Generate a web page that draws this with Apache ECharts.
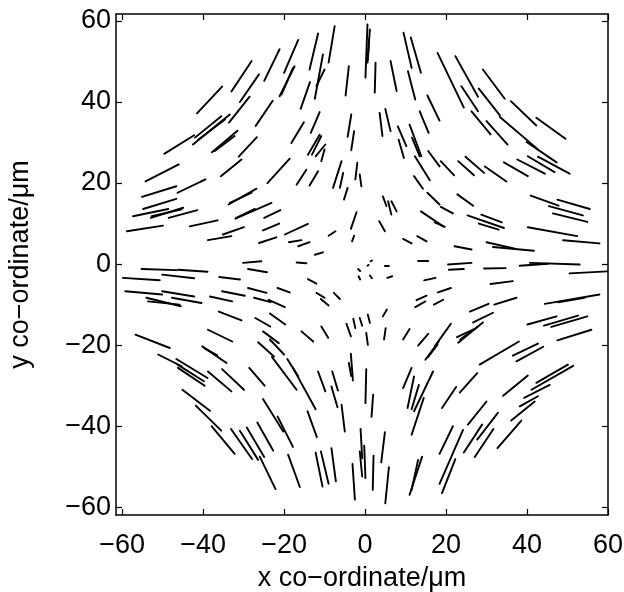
<!DOCTYPE html>
<html>
<head>
<meta charset="utf-8">
<script src="https://cdn.jsdelivr.net/npm/echarts@6/dist/echarts.min.js"></script>
<style>
  html, body { margin: 0; padding: 0; background: #fff; }
  #chart { width: 624px; height: 592px; }
</style>
</head>
<body>
<div id="chart"></div>
<script>
// tick values shown on both axes
const tickValues = [-60, -40, -20, 0, 20, 40, 60]

// director segments [x1, y1, x2, y2] in µm, grouped by region of the plot
const topLeft = [
  [-41.5, 37.2, -35.3, 43.8], [-33.0, 42.6, -28.0, 50.1], [-30.9, 40.0, -26.2, 46.8],
  [-24.9, 45.2, -21.1, 53.0], [-33.6, 34.9, -28.5, 41.3], [-27.0, 34.1, -22.8, 40.3],
  [-42.0, 31.2, -35.5, 36.5], [-42.5, 29.5, -33.4, 36.9], [-41.2, 30.7, -34.6, 35.7],
  [-49.6, 27.2, -42.2, 31.8], [-37.8, 27.6, -31.5, 32.9], [-37.1, 27.9, -32.2, 31.6],
  [-31.2, 26.5, -26.7, 31.3], [-54.2, 20.4, -46.0, 24.6], [-35.6, 21.7, -30.5, 25.8],
  [-24.1, 20.0, -18.6, 26.0]
]

const topMid = [
  [-20.0, 47.2, -16.5, 55.3], [-21.1, 41.4, -17.4, 48.8], [-20.6, 41.9, -17.8, 48.4],
  [-13.7, 48.0, -11.6, 56.9], [-9.0, 49.7, -7.5, 58.7], [-12.4, 40.8, -10.4, 51.7],
  [-12.0, 43.9, -10.0, 48.0], [-15.9, 38.3, -13.6, 44.9], [-4.8, 41.6, -4.0, 48.8],
  [0.1, 46.0, 0.6, 59.1], [0.6, 49.7, 1.2, 57.9], [0.7, 50.5, 1.0, 55.5],
  [2.4, 42.3, 2.6, 49.7], [6.3, 50.1, 7.8, 42.7], [9.5, 57.1, 11.5, 48.4],
  [11.3, 55.9, 13.8, 47.2], [10.6, 47.6, 12.4, 40.6], [17.9, 52.1, 24.4, 38.6],
  [15.4, 41.6, 18.4, 35.4], [-18.2, 29.9, -15.1, 35.0], [-13.4, 32.4, -11.2, 37.5],
  [-14.1, 27.0, -11.2, 31.9], [-13.1, 27.0, -10.8, 31.6], [-12.2, 26.6, -9.8, 29.5],
  [-10.8, 25.4, -10.0, 28.3], [-4.3, 31.4, -3.4, 36.9], [-3.4, 28.1, -2.7, 32.8],
  [3.6, 37.3, 4.3, 31.6], [5.0, 38.3, 6.3, 32.8], [8.1, 34.0, 10.2, 29.1],
  [8.3, 30.7, 9.6, 26.2], [11.0, 34.4, 13.9, 26.6], [11.6, 31.2, 13.5, 26.6],
  [13.5, 37.7, 15.7, 32.4], [15.6, 27.9, 18.4, 24.1], [12.3, 26.6, 16.0, 20.7],
  [12.1, 21.7, 14.3, 18.6], [-16.9, 19.6, -14.5, 23.3], [-13.7, 19.4, -11.6, 22.9],
  [-7.9, 18.8, -5.8, 25.4], [-6.2, 18.8, -5.4, 22.5], [-2.4, 20.9, -1.9, 25.0],
  [-1.3, 22.1, -0.9, 19.2], [-5.2, 15.9, -4.3, 18.8], [15.4, 17.6, 18.4, 14.7],
  [13.8, 13.0, 19.3, 9.3], [4.4, 16.7, 5.3, 14.3], [5.7, 15.5, 6.5, 12.2],
  [6.5, 15.5, 7.8, 13.0], [3.5, 10.6, 4.9, 8.1], [-3.5, 8.7, -2.1, 12.8],
  [-3.2, 5.6, -2.7, 7.0]
]

const topRight = [
  [22.3, 51.3, 27.9, 41.3], [29.1, 48.0, 34.5, 40.8], [23.8, 43.9, 27.9, 37.7],
  [28.1, 43.3, 33.3, 36.7], [36.0, 40.2, 42.3, 34.2], [42.3, 36.1, 49.5, 30.9],
  [26.3, 37.7, 31.0, 32.0], [30.0, 35.3, 35.2, 29.5], [33.3, 36.3, 42.7, 28.3],
  [39.9, 30.1, 47.3, 25.1], [40.2, 26.6, 46.8, 22.7], [42.7, 26.5, 50.5, 22.3],
  [37.6, 25.8, 44.4, 22.3], [34.3, 25.1, 40.2, 21.7], [29.6, 24.1, 34.9, 20.4],
  [24.8, 26.5, 29.4, 22.5], [23.0, 25.4, 26.9, 21.9], [18.7, 25.4, 22.0, 21.9]
]

const midLeft = [
  [-55.1, 16.6, -46.6, 19.2], [-46.3, 17.6, -39.4, 20.9], [-33.7, 14.7, -26.8, 18.6],
  [-33.4, 15.1, -28.0, 17.6], [-54.8, 13.6, -46.6, 16.1], [-57.3, 11.8, -48.6, 13.6],
  [-52.9, 11.4, -44.9, 13.9], [-52.7, 11.8, -45.3, 13.5], [-48.5, 11.4, -41.4, 13.3],
  [-32.0, 11.2, -23.1, 15.1], [-31.8, 11.4, -27.2, 13.6], [-24.9, 11.4, -20.9, 13.3],
  [-58.8, 8.1, -49.9, 9.5], [-43.3, 9.3, -36.4, 10.8], [-25.2, 8.3, -21.2, 10.0],
  [-38.8, 5.9, -33.0, 6.9], [-35.1, 7.3, -29.9, 9.1], [-26.2, 5.2, -21.9, 6.6],
  [-30.1, 0.3, -25.6, 0.7], [-55.2, -1.2, -46.6, -1.5], [-46.2, -1.4, -38.9, -1.9],
  [-28.9, -1.2, -24.2, -2.0], [-59.8, -3.4, -50.7, -4.0], [-50.1, -2.6, -42.2, -3.5],
  [-36.0, -3.2, -30.9, -3.8], [-59.2, -6.7, -50.1, -7.5], [-50.1, -6.7, -42.2, -8.0],
  [-54.0, -8.3, -45.5, -10.4], [-53.6, -9.2, -45.8, -10.0], [-47.7, -8.3, -40.4, -9.6],
  [-38.3, -8.0, -32.8, -9.2], [-35.3, -6.7, -29.7, -7.8], [-28.9, -5.9, -24.3, -7.1],
  [-27.4, -8.3, -23.3, -9.4], [-36.1, -11.7, -30.5, -13.9], [-27.1, -13.3, -23.4, -15.4]
]

const centre = [
  [-19.8, 7.3, -14.1, 9.9], [-18.8, 5.4, -15.7, 5.9], [-16.5, 4.4, -13.7, 5.4],
  [-9.0, 7.0, -7.3, 8.1], [-12.4, 2.3, -10.4, 2.9], [-16.9, 0.4, -14.5, 0.2],
  [9.4, 6.2, 11.5, 5.1], [12.9, 6.9, 15.2, 5.6], [13.1, 0.9, 15.6, 0.9],
  [4.9, -0.4, 5.9, -0.4], [5.5, -3.4, 6.7, -3.0], [-1.7, -1.2, -1.2, -1.7],
  [0.6, -0.4, 0.9, -0.2], [1.4, 0.7, 1.7, 0.9], [-1.6, -3.0, -1.2, -3.8],
  [1.2, -2.8, 1.7, -3.5], [14.6, -4.0, 17.4, -3.4], [-14.1, -3.7, -12.0, -4.8],
  [-21.6, -5.9, -18.6, -7.0], [-12.0, -7.1, -10.0, -8.3], [-10.9, -8.6, -9.0, -10.2],
  [-7.7, -7.1, -6.2, -8.6], [-23.8, -8.8, -19.8, -10.6], [-23.5, -12.2, -19.7, -14.9],
  [4.4, -12.9, 5.4, -11.2], [-4.6, -14.7, -3.5, -17.8], [-2.9, -13.5, -2.4, -15.8],
  [-1.3, -13.3, -0.7, -15.2], [0.7, -12.5, 1.2, -14.5], [12.7, -8.9, 15.2, -7.8],
  [12.4, -10.6, 14.9, -9.2], [17.0, -10.0, 19.3, -8.8], [18.0, -7.0, 21.2, -5.9],
  [-15.7, -16.6, -12.8, -19.1], [-10.8, -15.4, -9.1, -18.2], [0.3, -17.0, 0.7, -19.9],
  [4.7, -18.6, 5.1, -15.8], [9.4, -18.6, 11.0, -16.0]
]

const midRight = [
  [22.8, 17.2, 26.7, 14.4], [18.7, 14.1, 21.7, 12.5], [17.2, 10.3, 19.7, 9.2],
  [25.3, 12.0, 34.3, 8.9], [28.7, 12.2, 33.8, 10.3], [28.1, 10.0, 33.0, 8.5],
  [40.9, 16.9, 47.8, 14.4], [47.5, 15.9, 55.5, 13.6], [45.4, 14.3, 53.8, 12.0],
  [46.4, 12.5, 54.9, 10.4], [40.2, 9.1, 52.4, 6.9], [48.9, 5.9, 57.9, 5.1],
  [22.1, 4.4, 26.3, 3.6], [30.0, 5.4, 37.0, 3.8], [31.6, 4.2, 41.7, 3.3],
  [20.5, -0.1, 26.3, 0.3], [20.7, -1.4, 24.4, -1.2], [29.4, -1.1, 34.7, -1.0],
  [38.2, -0.4, 45.2, 0.1], [40.7, 0.3, 53.0, -0.1], [50.5, -2.3, 59.8, -1.8],
  [31.0, -4.9, 36.5, -4.2], [25.9, -11.7, 30.5, -9.8], [31.9, -10.0, 37.4, -8.3],
  [44.4, -9.8, 57.9, -7.5], [47.7, -9.4, 54.2, -8.3], [26.7, -14.4, 31.6, -12.0],
  [40.1, -14.9, 47.3, -12.9], [44.2, -15.2, 52.6, -12.7], [46.0, -15.5, 54.9, -12.9]
]

const botLeft = [
  [-56.7, -17.4, -48.2, -20.7], [-38.8, -16.2, -32.8, -19.1], [-25.2, -16.6, -21.3, -19.5],
  [-23.5, -18.6, -20.0, -22.3], [-26.4, -19.3, -22.5, -22.8], [-23.0, -22.9, -16.9, -31.0],
  [-51.1, -22.3, -45.3, -25.2], [-46.6, -23.4, -38.9, -28.1], [-46.3, -24.8, -39.8, -28.9],
  [-46.2, -25.6, -39.6, -30.0], [-40.2, -20.3, -34.2, -24.4], [-39.6, -20.8, -36.5, -22.5],
  [-38.8, -26.5, -33.0, -31.4], [-35.3, -25.9, -29.9, -31.0], [-28.6, -25.6, -24.8, -30.0],
  [-45.1, -31.0, -38.3, -36.2], [-41.8, -34.9, -35.5, -41.1], [-37.9, -40.0, -32.2, -46.8],
  [-33.1, -40.7, -27.9, -48.1], [-30.9, -41.1, -26.4, -48.3], [-29.2, -40.3, -24.9, -47.6],
  [-26.6, -39.1, -22.7, -46.0], [-25.2, -33.3, -20.2, -41.3], [-21.6, -37.6, -17.8, -45.1],
  [-26.0, -47.5, -22.1, -55.5]
]

const botMid = [
  [-19.2, -23.4, -16.5, -27.7], [-17.8, -25.6, -12.2, -35.8], [-11.6, -26.5, -9.8, -31.4],
  [-8.1, -26.5, -6.7, -31.2], [-8.3, -30.2, -6.8, -35.3], [-3.5, -22.1, -3.0, -28.7],
  [-4.0, -24.4, -3.4, -27.6], [0.3, -25.9, 0.1, -34.3], [2.0, -32.2, 1.6, -37.7],
  [-5.8, -34.7, -5.0, -41.3], [-14.2, -36.3, -11.9, -42.7], [-19.0, -47.0, -16.1, -55.0],
  [-12.2, -46.5, -10.5, -54.9], [-10.9, -46.2, -9.0, -54.2], [-8.3, -45.4, -7.2, -53.6],
  [-3.1, -49.3, -2.5, -58.1], [-1.1, -40.7, -0.7, -47.9], [-1.3, -46.2, -0.7, -52.4],
  [-0.2, -44.8, 0.1, -52.8], [2.1, -47.3, 1.9, -55.7], [4.9, -41.5, 4.0, -48.9],
  [5.9, -50.1, 5.0, -59.0], [11.5, -25.6, 9.4, -30.6], [12.1, -27.7, 10.5, -35.5],
  [13.3, -29.8, 11.5, -35.8], [16.8, -26.5, 12.1, -36.3], [14.5, -33.0, 11.5, -42.1],
  [14.1, -47.5, 11.0, -56.9], [13.1, -48.3, 11.5, -55.7], [13.1, -20.1, 15.6, -17.2],
  [14.9, -23.6, 18.2, -19.1], [15.5, -23.0, 17.9, -19.9]
]

const botRight = [
  [47.5, -18.8, 55.9, -16.2], [28.3, -24.8, 38.0, -19.1], [36.5, -22.6, 42.7, -19.6],
  [37.4, -24.0, 44.0, -20.4], [23.4, -31.7, 27.7, -26.9], [19.0, -35.5, 22.5, -30.3],
  [34.1, -32.5, 40.2, -27.5], [42.3, -29.3, 50.1, -24.8], [41.1, -31.0, 51.4, -25.1],
  [39.3, -33.0, 45.6, -29.8], [38.2, -35.1, 42.7, -32.6], [36.1, -38.6, 41.9, -33.9],
  [25.4, -39.6, 30.0, -33.9], [24.4, -46.5, 28.9, -39.6], [27.7, -43.3, 32.8, -36.7],
  [27.1, -47.6, 31.7, -40.7], [32.7, -45.4, 38.6, -38.6], [18.4, -46.8, 21.7, -40.0],
  [18.4, -54.2, 24.2, -40.9], [19.0, -56.5, 22.3, -48.1], [23.0, -19.4, 29.1, -14.4],
  [23.5, -18.6, 27.9, -15.4], [22.7, -18.0, 27.1, -16.0], [17.2, -20.3, 21.2, -14.7]
]

const allSegments = [].concat(topLeft, topMid, topRight, midLeft, centre, midRight, botLeft, botMid, botRight)

const fontFamily = '"Liberation Sans", Arial, Helvetica, sans-serif'
const minus = v => String(v).replace('-', '\u2212')

const chart = echarts.init(document.getElementById('chart'), null, { renderer: 'canvas' })

// shared look of the box axes (MATLAB style: ticks inside on all four sides)
function boxAxis(extra) {
  return Object.assign({
    type: 'value',
    axisLine: { show: true, onZero: false, lineStyle: { color: '#000', width: 1.5 } },
    axisTick: { show: true, inside: true, length: 6, customValues: tickValues, lineStyle: { color: '#000', width: 1.2 } },
    axisLabel: { show: false },
    splitLine: { show: false }
  }, extra)
}

const labelStyle = {
  show: true,
  customValues: tickValues,
  formatter: minus,
  color: '#000',
  fontSize: 27,
  fontFamily: fontFamily
}

const option = {
  animation: false,
  backgroundColor: '#fff',
  grid: { left: 116, right: 16, top: 14, bottom: 77, outerBoundsMode: 'none' },
  xAxis: [
    boxAxis({
      min: -61.5, max: 60, position: 'bottom',
      axisLabel: Object.assign({ margin: 17 }, labelStyle),
      name: 'x co\u2212ordinate/\u03bcm', nameLocation: 'middle', nameGap: 50,
      nameTextStyle: { color: '#000', fontSize: 27, fontFamily: fontFamily }
    }),
    boxAxis({ min: -61.5, max: 60, position: 'top' })
  ],
  yAxis: [
    boxAxis({
      min: -61.9, max: 61.7, position: 'left',
      axisLabel: Object.assign({ margin: 5 }, labelStyle),
      name: 'y co\u2212ordinate/\u03bcm', nameLocation: 'middle', nameGap: 82,
      nameTextStyle: { color: '#000', fontSize: 27, fontFamily: fontFamily }
    }),
    boxAxis({ min: -61.9, max: 61.7, position: 'right' })
  ],
  series: [
    {
      type: 'lines',
      coordinateSystem: 'cartesian2d',
      xAxisIndex: 0,
      yAxisIndex: 0,
      silent: true,
      lineStyle: { color: '#000', width: 1.9, opacity: 1, cap: 'round' },
      data: allSegments.map(s => ({ coords: [[s[0], s[1]], [s[2], s[3]]] }))
    }
  ]
}

chart.setOption(option)
</script>
</body>
</html>
